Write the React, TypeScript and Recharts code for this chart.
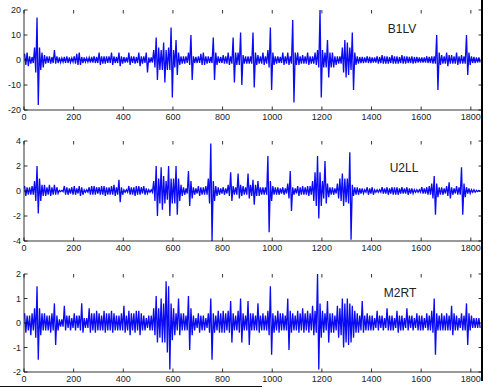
import { Line, LineChart, XAxis, YAxis } from "recharts";

// envelope of each signal: one max / min pair per 10-sample bin
const BIN = 10;
const X_MAX = 1845;
const X_TICKS = [0, 200, 400, 600, 800, 1000, 1200, 1400, 1600, 1800];

const b1lvUp = [
  2.5, 3, 1.5, 1.2, 5, 17, 5, 3, 2, 1.5,
  1.5, 1.2, 4, 1.5, 1, 0.8, 1.2, 1.5, 1, 0.8,
  1.5, 2.5, 3, 1.2, 1, 0.8, 1, 1.2, 1.5, 1.2,
  3, 1.5, 1.5, 1.5, 1.5, 3, 1.5, 1.2, 3, 1.5,
  1.2, 1, 3, 1.5, 1.5, 1.2, 3, 1.5, 1.5, 3,
  1, 1, 4, 9, 5, 4, 7, 4, 5, 13,
  4, 8, 3, 1.5, 1.5, 1.5, 3, 10, 1.5, 1.2,
  1.5, 2.5, 3, 1.5, 1.5, 1.2, 9, 3, 1.5, 1.2,
  2, 1.5, 3, 1.5, 9, 3, 3, 11, 2, 1.5,
  1.5, 1.5, 11, 3, 2, 1.5, 3, 1.5, 4, 13,
  3, 1.5, 1.5, 1.2, 3, 1.5, 3, 1.5, 16, 3,
  3, 1.5, 2, 1.5, 3, 1.5, 1.5, 3, 4, 20,
  4, 3, 8, 3, 3, 1.5, 1.5, 1.5, 5, 8,
  7, 5, 11, 3, 1.5, 1.2, 1.2, 1, 1.5, 1.2,
  1, 1, 1.5, 1.2, 2, 1.5, 1.5, 1.2, 2, 1.5,
  1.5, 1.2, 2, 1.5, 1.5, 1.2, 1.5, 1.2, 1.2, 1,
  1, 1, 1.5, 1.2, 1.5, 1.5, 10, 3, 2, 1.5,
  3, 2, 2, 1.5, 3, 1.5, 2, 1.5, 10, 3,
  1.5, 1.2, 1, 1,
];
const b1lvDown = [
  -2, -2.5, -1.5, -1.2, -5, -18, -4, -3, -1.5, -1.2,
  -1.5, -1.2, -1.5, -1.2, -1, -0.8, -1.2, -1.2, -1, -0.8,
  -1.5, -2, -2, -1.2, -0.8, -0.8, -1, -1, -1.2, -1.2,
  -2, -1.5, -1.5, -1.2, -1.2, -2, -1.2, -1.2, -2.5, -1.5,
  -1, -1, -2, -1.2, -1.5, -1.2, -2.5, -1.5, -1.2, -5,
  -1, -1, -3, -8, -4, -4, -9, -4, -4, -15,
  -3, -6, -2, -1.5, -1.5, -1.2, -2, -8, -1.2, -1.2,
  -1.2, -2, -2, -1.5, -1.2, -1.2, -8, -2, -1.2, -1.2,
  -1.5, -1.5, -2, -1.5, -9, -2, -2, -10, -1.5, -1.5,
  -1.5, -1.5, -11, -2, -1.5, -1.5, -2, -1.5, -3, -12,
  -2, -1.5, -1.2, -1.2, -2, -1.5, -2, -1.5, -17, -2,
  -2, -1.5, -1.5, -1.5, -2, -1.5, -1.5, -2, -3, -15,
  -3, -3, -7, -3, -3, -2, -1.5, -1.5, -5, -7,
  -6, -4, -12, -2, -1.5, -1.2, -1.2, -1, -1.2, -1.2,
  -1, -1, -1.5, -1.2, -1.5, -1.5, -1.5, -1.2, -1.5, -1.5,
  -1.5, -1.2, -1.5, -1.5, -1.2, -1.2, -1.5, -1.2, -1, -1,
  -1, -1, -1.2, -1.2, -1.5, -1.5, -12, -2, -1.5, -1.5,
  -2.5, -1.5, -1.5, -1.5, -2, -1.5, -1.5, -1.5, -6, -2,
  -1.2, -1.2, -1, -1,
];

const u2llUp = [
  0.4, 0.3, 0.3, 0.4, 0.8, 2, 1, 0.5, 0.5, 0.3,
  0.5, 0.3, 0.5, 0.3, 0.05, 0.05, 0.4, 0.3, 0.2, 0.3,
  0.4, 0.2, 0.4, 0.3, 0.1, 0.1, 0.3, 0.4, 0.4, 0.3,
  0.3, 0.4, 0.4, 0.3, 0.3, 0.4, 0.5, 0.3, 0.9, 0.3,
  0.1, 0.1, 0.4, 0.3, 0.3, 0.4, 0.4, 0.3, 0.4, 0.2,
  0.1, 0.1, 0.8, 2, 1, 1.9, 1.2, 0.8, 2, 1,
  1, 2, 1, 0.5, 0.3, 0.2, 1.6, 0.8, 0.3, 0.2,
  0.4, 0.3, 0.3, 0.4, 1, 3.8, 0.8, 0.4, 0.3, 0.2,
  0.3, 0.2, 0.5, 1.5, 0.4, 0.3, 1.4, 0.5, 0.4, 0.3,
  1.4, 0.5, 0.9, 0.5, 0.8, 0.3, 0.3, 0.3, 2.8, 0.8,
  0.4, 0.3, 0.3, 0.2, 0.3, 0.2, 0.6, 1.6, 0.3, 0.2,
  0.4, 0.3, 0.4, 0.3, 0.4, 0.4, 0.8, 1.5, 2.8, 1.5,
  0.8, 2.4, 0.6, 0.3, 0.3, 0.2, 0.6, 1, 1.4, 1,
  1, 3.1, 0.5, 0.3, 0.3, 0.2, 0.2, 0.1, 0.3, 0.2,
  0.3, 0.1, 0.1, 0.1, 0.3, 0.2, 0.3, 0.2, 0.3, 0.3,
  0.3, 0.2, 0.3, 0.2, 0.3, 0.2, 0.2, 0.1, 0.1, 0.1,
  0.3, 0.2, 0.3, 0.4, 0.6, 1.2, 0.6, 0.3, 0.3, 0.2,
  0.4, 0.7, 0.3, 0.2, 0.4, 0.3, 1.9, 0.6, 0.3, 0.2,
  0.1, 0.1, 0.05, 0.05,
];
const u2llDown = [
  -0.4, -0.3, -0.3, -0.3, -0.8, -1.8, -0.8, -0.4, -0.4, -0.3,
  -0.4, -0.3, -0.3, -0.2, -0.05, -0.05, -0.3, -0.3, -0.2, -0.3,
  -0.3, -0.2, -0.4, -0.3, -0.1, -0.1, -0.3, -0.3, -0.3, -0.2,
  -0.3, -0.3, -0.4, -0.3, -0.3, -0.3, -0.4, -0.3, -0.9, -0.3,
  -0.1, -0.1, -0.3, -0.3, -0.4, -0.3, -0.3, -0.2, -0.3, -0.2,
  -0.1, -0.1, -0.8, -2, -1, -1.5, -1, -0.7, -2, -1,
  -1, -1.9, -0.8, -0.4, -0.3, -0.2, -1.2, -0.6, -0.3, -0.2,
  -0.4, -0.3, -0.3, -0.3, -1, -4, -0.8, -0.4, -0.3, -0.2,
  -0.3, -0.2, -0.4, -0.8, -0.3, -0.3, -0.6, -0.4, -0.3, -0.3,
  -0.6, -0.4, -1.1, -0.4, -0.4, -0.3, -0.3, -0.3, -3.3, -0.8,
  -0.3, -0.3, -0.3, -0.2, -0.3, -0.2, -0.6, -1.6, -0.3, -0.2,
  -0.4, -0.3, -0.3, -0.3, -0.4, -0.3, -0.8, -1.2, -2.2, -1.2,
  -0.6, -1, -0.5, -0.3, -0.3, -0.2, -0.6, -0.8, -1.2, -0.9,
  -1, -3.9, -0.4, -0.3, -0.3, -0.2, -0.2, -0.1, -0.3, -0.2,
  -0.3, -0.1, -0.1, -0.1, -0.2, -0.2, -0.3, -0.2, -0.3, -0.3,
  -0.3, -0.2, -0.2, -0.2, -0.3, -0.2, -0.2, -0.1, -0.1, -0.1,
  -0.2, -0.2, -0.3, -0.3, -0.6, -1.9, -0.5, -0.3, -0.3, -0.2,
  -0.4, -0.6, -0.3, -0.2, -0.3, -0.3, -1.9, -0.5, -0.2, -0.2,
  -0.1, -0.1, -0.05, -0.05,
];

const m2rtUp = [
  0.4, 0.3, 0.3, 0.4, 0.6, 1.5, 0.6, 0.4, 0.4, 0.3,
  0.3, 0.4, 0.8, 0.3, 0.15, 0.15, 0.7, 0.3, 0.3, 0.2,
  0.4, 0.3, 0.3, 0.8, 0.2, 0.2, 0.6, 0.4, 0.4, 0.5,
  0.4, 0.3, 0.5, 0.4, 0.4, 0.5, 0.4, 0.3, 0.3, 0.4,
  0.7, 0.3, 0.5, 0.4, 0.4, 0.5, 0.5, 0.4, 0.3, 0.2,
  0.3, 0.3, 0.6, 1.1, 0.6, 1, 0.8, 1.7, 1.5, 0.8,
  0.6, 0.4, 1, 0.4, 0.4, 0.3, 1.1, 0.6, 0.3, 0.2,
  0.4, 0.3, 0.3, 0.2, 0.4, 1, 0.4, 0.3, 0.5, 0.4,
  0.5, 0.4, 0.5, 0.9, 0.4, 0.3, 0.5, 1, 0.4, 0.3,
  0.9, 0.4, 0.4, 0.3, 0.8, 0.3, 0.4, 0.3, 0.5, 1.5,
  0.4, 0.3, 0.5, 0.4, 0.4, 0.3, 1, 0.5, 0.4, 0.3,
  0.5, 0.4, 0.6, 0.4, 0.5, 0.4, 0.7, 0.5, 2, 0.8,
  0.5, 0.4, 0.9, 0.4, 0.4, 0.3, 0.7, 0.6, 1, 0.8,
  1, 0.8, 0.7, 0.5, 0.4, 0.3, 0.9, 0.3, 0.4, 0.3,
  0.3, 0.2, 0.5, 0.3, 0.3, 0.2, 0.6, 0.3, 0.3, 0.2,
  0.5, 0.3, 0.3, 0.2, 0.6, 0.3, 0.3, 0.2, 0.4, 0.3,
  0.3, 0.2, 0.4, 0.3, 0.5, 1, 0.4, 0.3, 0.4, 0.3,
  0.4, 0.3, 0.7, 0.4, 0.3, 0.2, 0.4, 0.3, 0.8, 0.4,
  0.3, 0.2, 0.2, 0.2,
];
const m2rtDown = [
  -0.4, -0.3, -0.5, -0.3, -0.6, -1.5, -0.5, -0.3, -0.3, -0.3,
  -0.4, -0.3, -0.9, -0.3, -0.15, -0.15, -0.3, -0.2, -0.3, -0.2,
  -0.3, -0.2, -0.3, -0.4, -0.2, -0.2, -0.4, -0.3, -0.4, -0.3,
  -0.3, -0.3, -0.4, -0.3, -0.3, -0.4, -0.3, -0.3, -0.3, -0.3,
  -0.4, -0.3, -0.5, -0.3, -0.4, -0.3, -0.5, -0.3, -0.3, -0.2,
  -0.3, -0.3, -0.5, -0.8, -0.6, -0.8, -0.8, -1.2, -1.9, -0.7,
  -0.5, -0.3, -0.5, -0.3, -0.3, -0.3, -1.1, -0.5, -0.3, -0.2,
  -0.4, -0.3, -0.3, -0.2, -0.4, -1.5, -0.4, -0.3, -0.4, -0.4,
  -0.4, -0.3, -0.4, -0.8, -0.3, -0.3, -0.4, -0.8, -0.3, -0.3,
  -0.9, -0.3, -0.3, -0.3, -0.4, -0.3, -0.3, -0.3, -0.5, -1.3,
  -0.4, -0.3, -0.4, -0.3, -0.3, -0.3, -1.1, -0.4, -0.3, -0.3,
  -0.4, -0.3, -0.4, -0.3, -0.4, -0.3, -0.5, -0.4, -1.9, -0.6,
  -0.4, -0.3, -0.8, -0.4, -0.4, -0.3, -0.6, -0.5, -1, -0.8,
  -0.9, -0.8, -0.6, -0.4, -0.4, -0.3, -0.4, -0.3, -0.3, -0.3,
  -0.3, -0.2, -0.3, -0.2, -0.3, -0.2, -0.3, -0.3, -0.3, -0.2,
  -0.4, -0.3, -0.3, -0.2, -0.3, -0.2, -0.3, -0.2, -0.3, -0.3,
  -0.3, -0.2, -0.3, -0.3, -0.4, -1.3, -0.3, -0.3, -0.3, -0.3,
  -0.3, -0.3, -0.5, -0.3, -0.3, -0.2, -0.3, -0.3, -0.9, -0.3,
  -0.2, -0.2, -0.2, -0.2,
];

const FONT = "'Liberation Sans', Arial, sans-serif";
const WIDTH = 503;
const LEFT = 24;
const RIGHT = 21;
const TOP = 10;
const XH = 20;
const TICK = 3.5;

function toSignal(up: number[], down: number[]) {
  return up.flatMap((u, i) => [
    { x: i * BIN + 2.5, v: u },
    { x: i * BIN + 7.5, v: down[i] },
  ]);
}

interface PanelProps {
  top: number;
  height: number;
  up: number[];
  down: number[];
  yMax: number;
  yTicks: number[];
}

function Panel({ top, height, up, down, yMax, yTicks }: PanelProps) {
  const data = toSignal(up, down);
  const plotW = WIDTH - LEFT - RIGHT;
  const plotH = height - TOP - XH;

  const XTick = ({ x, y, payload }: any) => (
    <g>
      <line x1={x} x2={x} y1={y} y2={y - TICK} stroke="#000" strokeWidth={0.8} />
      <line x1={x} x2={x} y1={y - plotH} y2={y - plotH + TICK} stroke="#000" strokeWidth={0.8} />
      <text x={x} y={y + 10} textAnchor="middle" fontSize={9} fill="#222" fontFamily={FONT}>
        {payload.value}
      </text>
    </g>
  );

  const YTick = ({ x, y, payload }: any) => (
    <g>
      <line x1={x} x2={x + TICK} y1={y} y2={y} stroke="#000" strokeWidth={0.8} />
      <line x1={x + plotW} x2={x + plotW - TICK} y1={y} y2={y} stroke="#000" strokeWidth={0.8} />
      <text x={x - 3} y={y + 3} textAnchor="end" fontSize={9} fill="#222" fontFamily={FONT}>
        {payload.value}
      </text>
    </g>
  );

  return (
    <div style={{ position: "absolute", left: 0, top }}>
      <LineChart
        width={WIDTH}
        height={height}
        data={data}
        margin={{ top: TOP, right: RIGHT, bottom: 0, left: 0 }}
      >
        <XAxis
          dataKey="x"
          type="number"
          domain={[0, X_MAX]}
          ticks={X_TICKS}
          interval={0}
          height={XH}
          tickSize={0}
          tickMargin={0}
          tickLine={false}
          tick={<XTick />}
          axisLine={{ stroke: "#000", strokeWidth: 0.8 }}
          allowDataOverflow
        />
        <XAxis
          xAxisId="top"
          orientation="top"
          dataKey="x"
          type="number"
          domain={[0, X_MAX]}
          height={0}
          tick={false}
          tickLine={false}
          axisLine={{ stroke: "#000", strokeWidth: 0.8 }}
        />
        <YAxis
          type="number"
          domain={[-yMax, yMax]}
          ticks={yTicks}
          interval={0}
          width={LEFT}
          tickSize={0}
          tickMargin={0}
          tickLine={false}
          tick={<YTick />}
          axisLine={{ stroke: "#000", strokeWidth: 0.8 }}
          allowDataOverflow
        />
        <YAxis
          yAxisId="right"
          orientation="right"
          type="number"
          domain={[-yMax, yMax]}
          width={0}
          tick={false}
          tickLine={false}
          axisLine={{ stroke: "#000", strokeWidth: 0.8 }}
        />
        <Line
          type="linear"
          dataKey="v"
          stroke="#0a0af5"
          strokeWidth={1.3}
          dot={false}
          isAnimationActive={false}
        />
      </LineChart>
    </div>
  );
}

const labelStyle = (cx: number, cy: number) => ({
  position: "absolute" as const,
  left: cx - 25,
  top: cy - 7,
  width: 50,
  textAlign: "center" as const,
  fontSize: 12,
  lineHeight: "14px",
  fontFamily: FONT,
  color: "#222",
});

export default function App() {
  return (
    <div
      style={{
        position: "absolute",
        left: 0,
        top: 0,
        width: WIDTH,
        height: 392,
        background: "#fff",
        overflow: "hidden",
      }}
    >
      <Panel top={0} height={130} up={b1lvUp} down={b1lvDown} yMax={20} yTicks={[-20, -10, 0, 10, 20]} />
      <Panel top={131} height={130} up={u2llUp} down={u2llDown} yMax={4} yTicks={[-4, -2, 0, 2, 4]} />
      <Panel top={264} height={128} up={m2rtUp} down={m2rtDown} yMax={2} yTicks={[-2, -1, 0, 1, 2]} />
      <div style={labelStyle(402, 29)}>B1LV</div>
      <div style={labelStyle(404, 168)}>U2LL</div>
      <div style={labelStyle(400, 293)}>M2RT</div>
      {/* frame edges visible in the scan */}
      <div style={{ position: "absolute", left: 481, top: 0, width: 2, height: 381, background: "#000" }} />
      <div style={{ position: "absolute", left: 0, top: 386, width: 262, height: 1, background: "#111" }} />
    </div>
  );
}
